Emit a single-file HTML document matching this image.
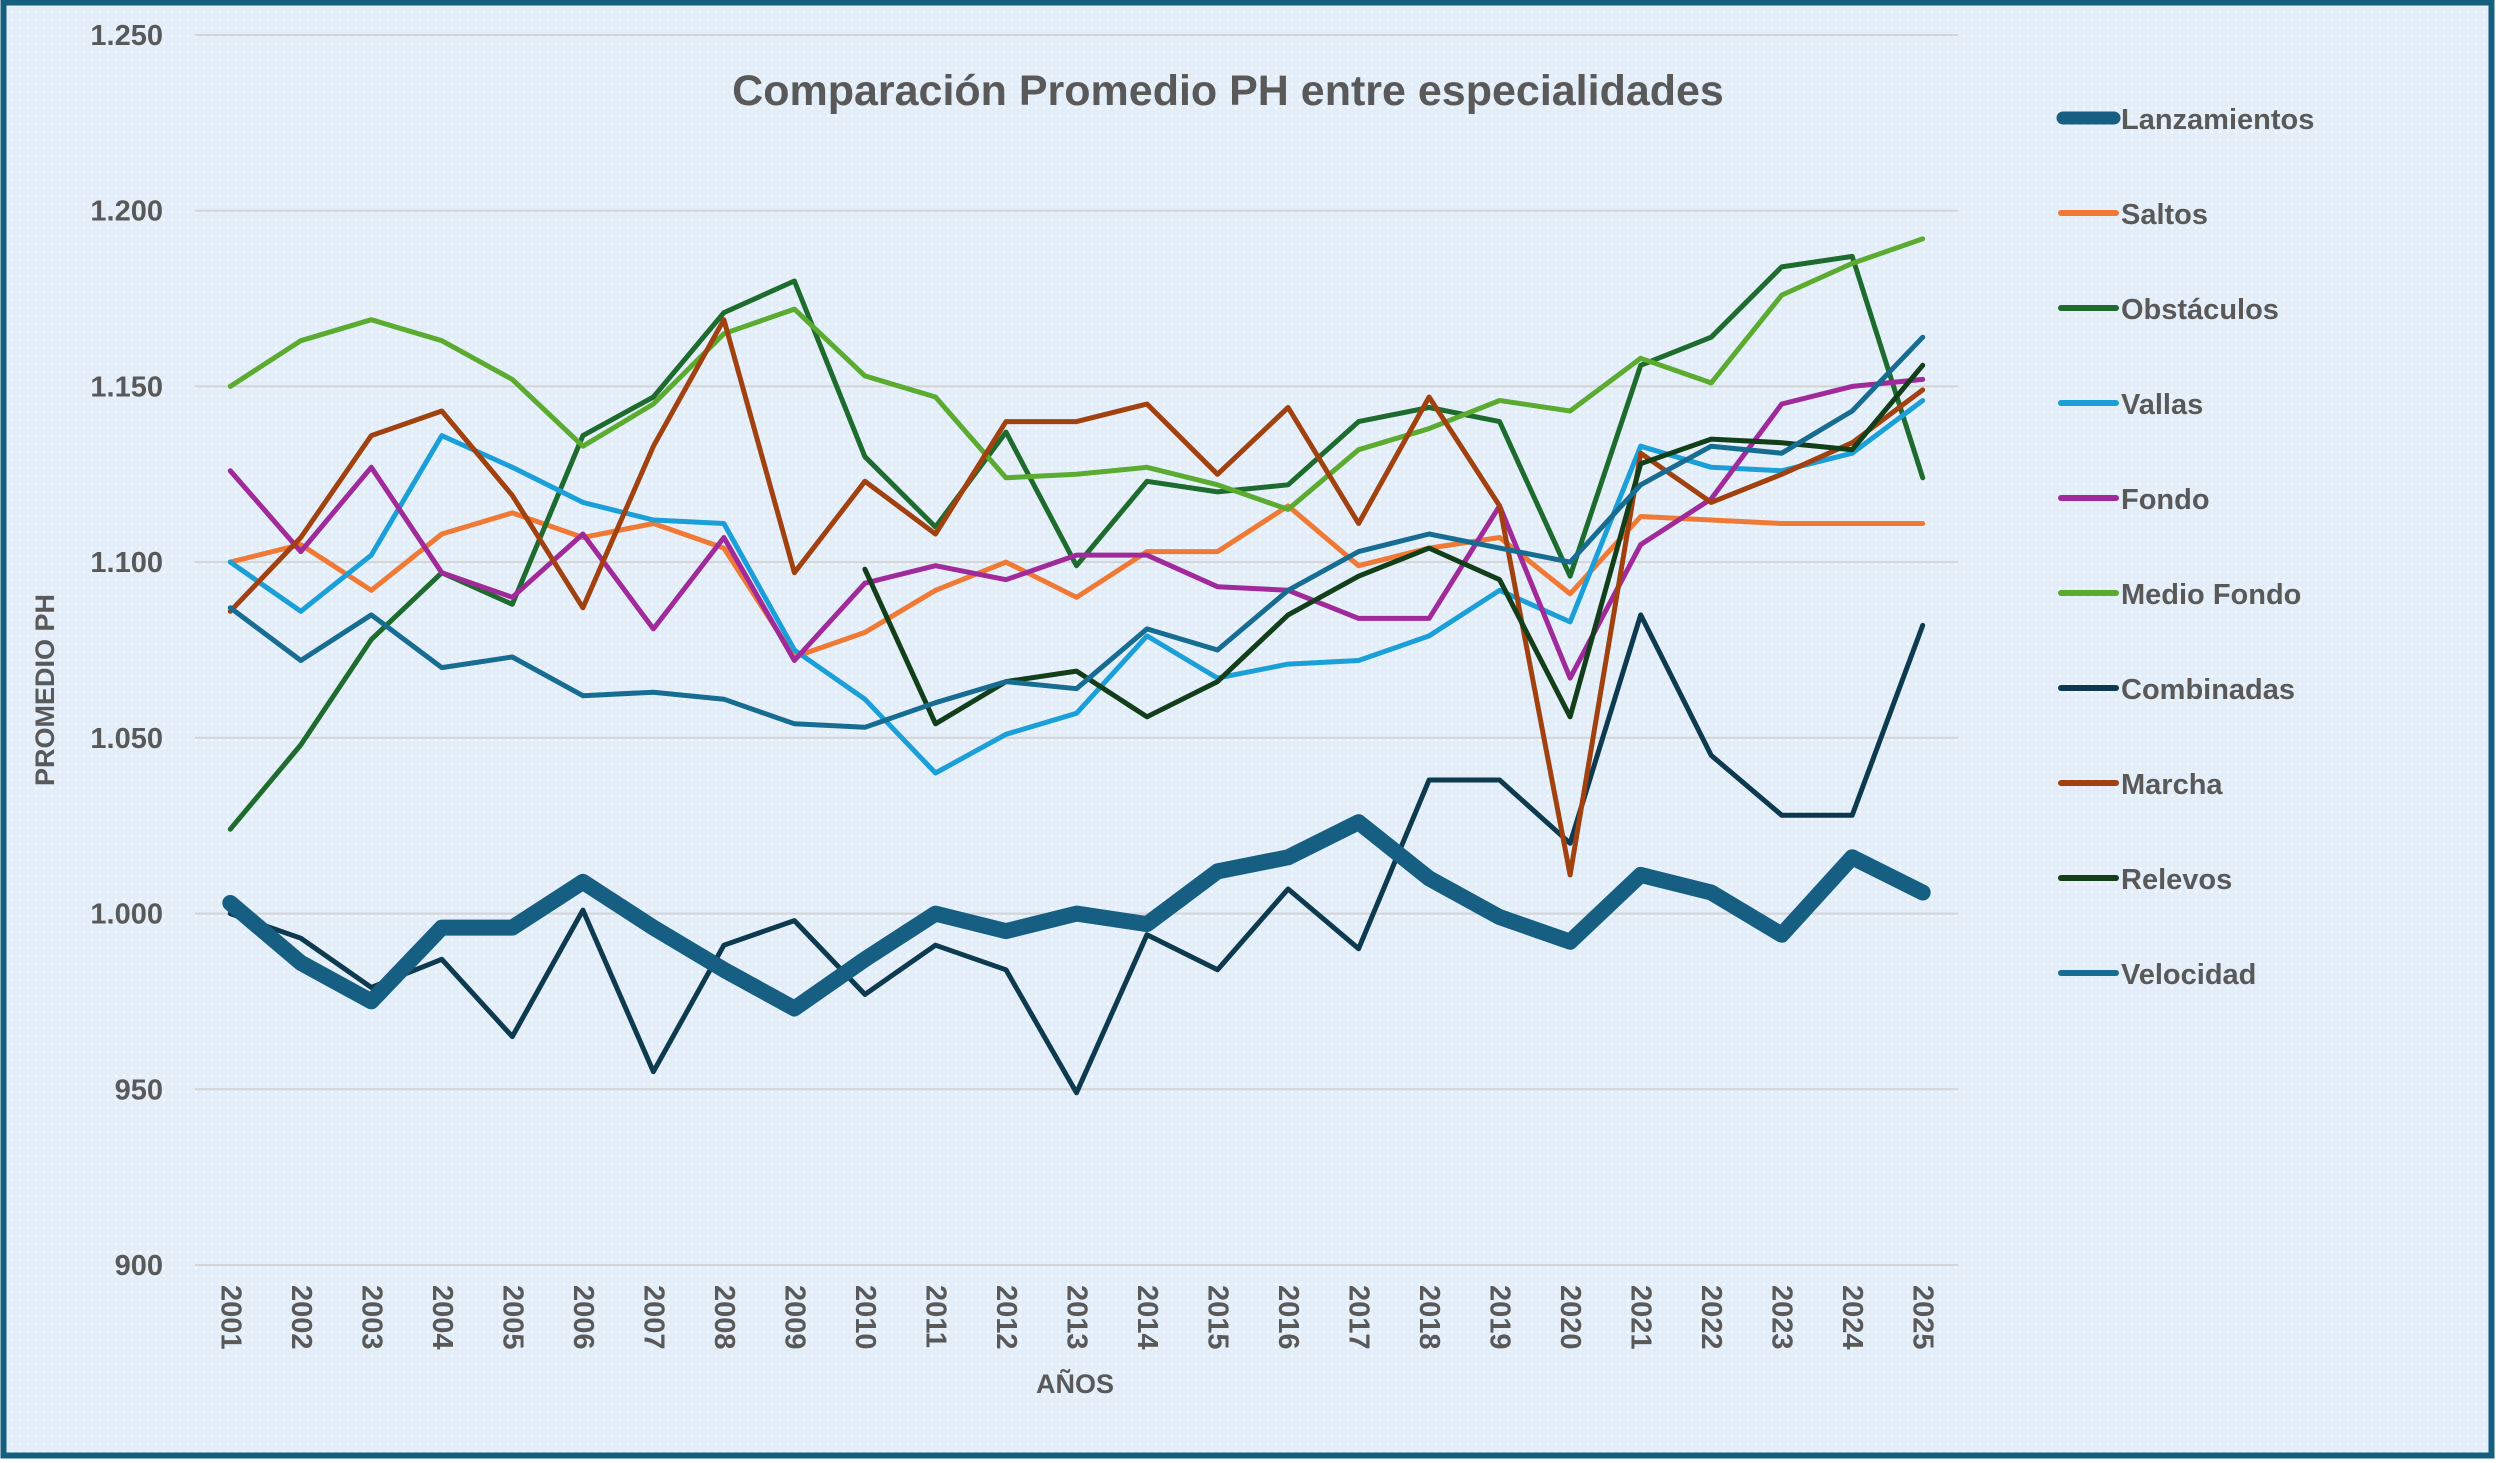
<!DOCTYPE html>
<html><head><meta charset="utf-8"><style>
html,body{margin:0;padding:0;background:#fff}
svg{display:block;font-family:"Liberation Sans",sans-serif}
</style></head><body>
<svg width="2500" height="1463" viewBox="0 0 2500 1463" xmlns="http://www.w3.org/2000/svg">
<defs>
<pattern id="dots" width="8" height="8" patternUnits="userSpaceOnUse">
<rect width="8" height="8" fill="#e3eef9"/><circle cx="4" cy="4" r="1.3" fill="#f7fbff"/>
</pattern>
</defs>
<rect x="3.5" y="2.5" width="2488" height="1453" fill="url(#dots)" stroke="#145f80" stroke-width="6"/>
<text x="1228" y="105" text-anchor="middle" font-size="43" font-weight="bold" fill="#595959">Comparación Promedio PH entre especialidades</text>
<g id="grid"></g><g id="yt"></g><g id="xt"></g><g id="series"></g><g id="legend"></g>
<text x="1075" y="1393" text-anchor="middle" font-size="27" font-weight="bold" fill="#595959">AÑOS</text>
<text transform="translate(54,690) rotate(-90)" text-anchor="middle" font-size="27" font-weight="bold" fill="#595959">PROMEDIO PH</text>
</svg>
<script>
const years=[2001,2002,2003,2004,2005,2006,2007,2008,2009,2010,2011,2012,2013,2014,2015,2016,2017,2018,2019,2020,2021,2022,2023,2024,2025];
const yTicks=[900,950,1000,1050,1100,1150,1200,1250];
const yTickLabels=["900","950","1.000","1.050","1.100","1.150","1.200","1.250"];
const names=["Lanzamientos","Saltos","Obstáculos","Vallas","Fondo","Medio Fondo","Combinadas","Marcha","Relevos","Velocidad"];
const lanzamientos=[1003,986,975,996,996,1009,996,984,973,987,1000,995,1000,997,1012,1016,1026,1010,999,992,1011,1006,994,1016,1006];
const saltos=[1100,1105,1092,1108,1114,1107,1111,1104,1073,1080,1092,1100,1090,1103,1103,1116,1099,1104,1107,1091,1113,1112,1111,1111,1111];
const obstaculos=[1024,1048,1078,1097,1088,1136,1147,1171,1180,1130,1110,1137,1099,1123,1120,1122,1140,1144,1140,1096,1156,1164,1184,1187,1124];
const vallas=[1100,1086,1102,1136,1127,1117,1112,1111,1075,1061,1040,1051,1057,1079,1067,1071,1072,1079,1092,1083,1133,1127,1126,1131,1146];
const fondo=[1126,1103,1127,1097,1090,1108,1081,1107,1072,1094,1099,1095,1102,1102,1093,1092,1084,1084,1116,1067,1105,1118,1145,1150,1152];
const medioFondo=[1150,1163,1169,1163,1152,1133,1145,1165,1172,1153,1147,1124,1125,1127,1122,1115,1132,1138,1146,1143,1158,1151,1176,1185,1192];
const combinadas=[1000,993,979,987,965,1001,955,991,998,977,991,984,949,994,984,1007,990,1038,1038,1020,1085,1045,1028,1028,1082];
const marcha=[1086,1107,1136,1143,1119,1087,1133,1169,1097,1123,1108,1140,1140,1145,1125,1144,1111,1147,1116,1011,1131,1117,1125,1134,1149];
const relevos=[null,null,null,null,null,null,null,null,null,1098,1054,1066,1069,1056,1066,1085,1096,1104,1095,1056,1128,1135,1134,1132,1156];
const velocidad=[1087,1072,1085,1070,1073,1062,1063,1061,1054,1053,1060,1066,1064,1081,1075,1092,1103,1108,1104,1100,1122,1133,1131,1143,1164];
const allSeries=[lanzamientos,saltos,obstaculos,vallas,fondo,medioFondo,combinadas,marcha,relevos,velocidad];
const colors=["#165f82","#f07a35","#1d6b2d","#1b9fd8","#a02a9a","#5aab30","#0e3a4f","#a1410f","#123f1a","#176c92"];
const widths=[16,5,5,5,5,5,5,5,5,5];
const NS="http://www.w3.org/2000/svg";
const X0=195,X1=1958,Y0=35,Y1=1265,VMIN=900,VMAX=1250;
const step=(X1-X0)/years.length;
function xs(i){return X0+step*(i+0.5);}
function ys(v){return Y1-(v-VMIN)/(VMAX-VMIN)*(Y1-Y0);}
function mk(t,a,p){const e=document.createElementNS(NS,t);for(const k in a)e.setAttribute(k,a[k]);p.appendChild(e);return e;}
const grid=document.getElementById('grid'),yt=document.getElementById('yt'),xt=document.getElementById('xt'),sg=document.getElementById('series'),lg=document.getElementById('legend');
yTicks.forEach((v,i)=>{
 const l=mk('line',{x1:X0,x2:X1,y1:ys(v),y2:ys(v),stroke:'#d4d4d4','stroke-width':2},grid);
 
 
 const t=mk('text',{x:163,y:ys(v)+10,'text-anchor':'end','font-size':29,'font-weight':'bold',fill:'#595959'},yt);
 t.textContent=yTickLabels[i];
 
 
});
years.forEach((y,i)=>{
 const t=mk('text',{transform:`translate(${xs(i)},1285) rotate(90)`,'font-size':29,'font-weight':'bold',fill:'#595959','dominant-baseline':'central'},xt);
 t.textContent=y;
 
 
});
const order=[1,2,3,4,5,6,7,8,9,0];
order.forEach(si=>{
 const d=allSeries[si];let p='';let pen=false;
 d.forEach((v,i)=>{if(v==null){pen=false;return;}p+=(pen?'L':'M')+xs(i).toFixed(1)+' '+ys(v).toFixed(1);pen=true;});
 const e=mk('path',{d:p,fill:'none',stroke:colors[si],'stroke-width':widths[si],'stroke-linejoin':'round','stroke-linecap':'round'},sg);
 
 
});
names.forEach((n,i)=>{
 const y=118+95*i;
 const l=mk('line',{x1:widths[i]>6?2063:2061,x2:widths[i]>6?2114:2116,y1:y,y2:y,stroke:colors[i],'stroke-width':widths[i]>6?13:6,'stroke-linecap':'round'},lg);
 
 
 const t=mk('text',{x:2121,y:y+11,'font-size':29,'font-weight':'bold',fill:'#595959'},lg);
 t.textContent=n;
 
 
});
</script>
</body></html>
